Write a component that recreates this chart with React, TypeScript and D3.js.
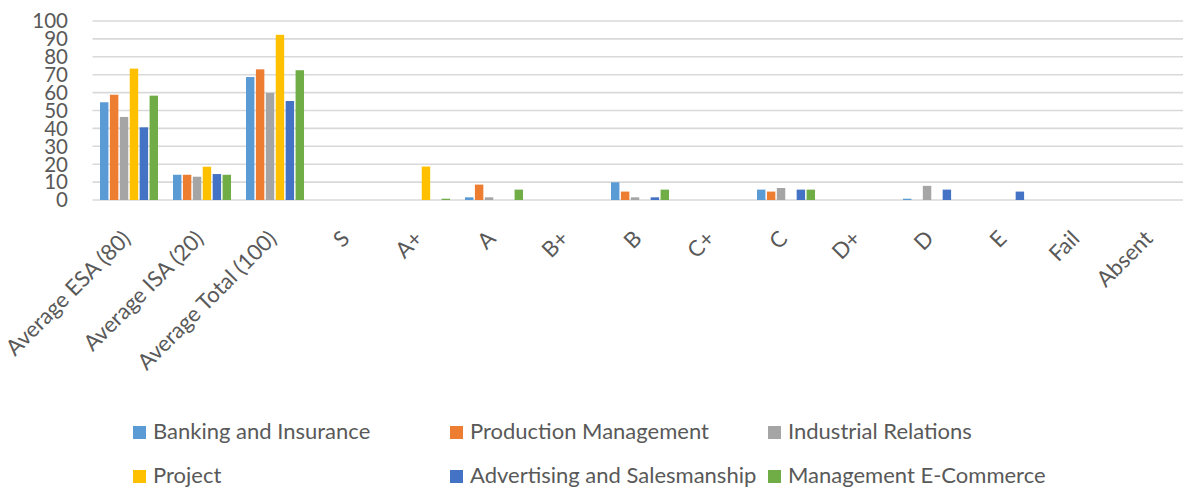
import React, { useEffect, useRef } from "react";
import * as d3 from "d3";

const categories = [
  "Average ESA (80)", "Average ISA (20)", "Average Total (100)", "S", "A+", "A", "B+",
  "B", "C+", "C", "D+", "D", "E", "Fail", "Absent"
];

const seriesNames = [
  "Banking and Insurance", "Production Management", "Industrial Relations",
  "Project", "Advertising and Salesmanship", "Management E-Commerce"
];

const seriesColors = ["#5B9BD5", "#ED7D31", "#A5A5A5", "#FFC000", "#4472C4", "#70AD47"];

const banking = [54.6, 14.1, 68.7, 0, 0, 1.5, 0, 9.9, 0, 5.8, 0, 0.7, 0, 0, 0];
const production = [58.8, 14.1, 73.0, 0, 0, 8.6, 0, 4.7, 0, 4.7, 0, 0, 0, 0, 0];
const industrial = [46.4, 13.0, 59.8, 0, 0, 1.5, 0, 1.5, 0, 6.7, 0, 7.9, 0, 0, 0];
const project = [73.4, 18.6, 92.3, 0, 18.7, 0, 0, 0, 0, 0, 0, 0, 0, 0, 0];
const advertising = [40.6, 14.5, 55.3, 0, 0, 0, 0, 1.5, 0, 5.8, 0, 5.8, 4.7, 0, 0];
const ecommerce = [58.3, 14.1, 72.5, 0, 0.7, 5.8, 0, 5.8, 0, 5.8, 0, 0, 0, 0, 0];

const yTicks = [0, 10, 20, 30, 40, 50, 60, 70, 80, 90, 100];

const FONT = "Lato, 'Open Sans', sans-serif";
const TEXT = "#595959";

export default function App() {
  const svgRef = useRef(null);

  useEffect(() => {
    const width = 1183;
    const height = 489;
    const svg = d3.select(svgRef.current);
    svg.selectAll("*").remove();

    const values = [banking, production, industrial, project, advertising, ecommerce];

    const x0 = d3.scaleBand()
      .domain(categories)
      .range([92.5, 1187.5])
      .paddingInner(0.205)
      .paddingOuter(0.1025);

    const x1 = d3.scaleBand()
      .domain(seriesNames)
      .range([0, x0.bandwidth()])
      .paddingInner(0.15);

    const y = d3.scaleLinear().domain([0, 100]).range([200, 21]);

    // gridlines
    svg.append("g")
      .selectAll("line")
      .data(yTicks)
      .join("line")
      .attr("x1", 92.5)
      .attr("x2", width)
      .attr("y1", d => y(d))
      .attr("y2", d => y(d))
      .attr("stroke", "#D9D9D9")
      .attr("stroke-width", 1.6);

    // y labels
    svg.append("g")
      .selectAll("text")
      .data(yTicks)
      .join("text")
      .attr("x", 68)
      .attr("y", d => y(d))
      .attr("dy", "0.36em")
      .attr("text-anchor", "end")
      .attr("font-family", FONT)
      .attr("font-size", 20.5)
      .attr("fill", TEXT)
      .text(d => d);

    // bars
    const groups = svg.append("g")
      .selectAll("g")
      .data(categories)
      .join("g")
      .attr("transform", d => `translate(${x0(d)},0)`);

    groups.selectAll("rect")
      .data((c, i) => seriesNames.map((s, k) => ({ s, k, v: values[k][i] })).filter(d => d.v > 0))
      .join("rect")
      .attr("x", d => x1(d.s))
      .attr("width", x1.bandwidth())
      .attr("y", d => y(d.v))
      .attr("height", d => y(0) - y(d.v))
      .attr("fill", d => seriesColors[d.k]);

    // category labels, rotated
    svg.append("g")
      .selectAll("text")
      .data(categories)
      .join("text")
      .attr("transform", d => `translate(${x0(d) + x0.bandwidth() / 2 + 3},240) rotate(-45)`)
      .attr("text-anchor", "end")
      .attr("font-family", FONT)
      .attr("font-size", 22)
      .attr("fill", TEXT)
      .text(d => d);

    // legend
    const colX = [133, 450, 768];
    const rowY = [426, 470];
    const legend = svg.append("g")
      .selectAll("g")
      .data(seriesNames)
      .join("g")
      .attr("transform", (d, i) => `translate(${colX[i % 3]},${rowY[Math.floor(i / 3)]})`);

    legend.append("rect")
      .attr("width", 13)
      .attr("height", 13)
      .attr("fill", (d, i) => seriesColors[i]);

    legend.append("text")
      .attr("x", 20)
      .attr("y", 13)
      .attr("font-family", FONT)
      .attr("font-size", 22)
      .attr("fill", TEXT)
      .text(d => d);

    svg.attr("width", width).attr("height", height);
  }, []);

  return (
    <svg
      ref={svgRef}
      width={1183}
      height={489}
      style={{ position: "absolute", left: 0, top: 0, background: "#fff" }}
    />
  );
}
